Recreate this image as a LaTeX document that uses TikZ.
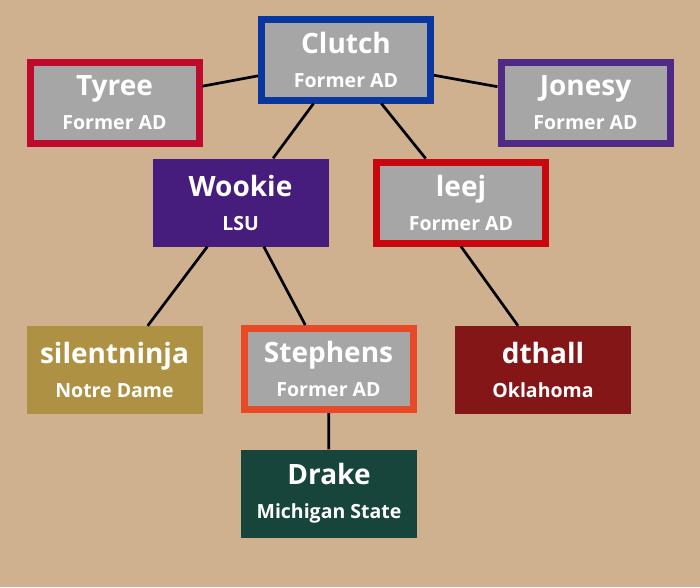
\documentclass[tikz,border=0pt]{standalone}
\usepackage{fontspec}
\setmainfont{Open Sans}
\usetikzlibrary{positioning,calc}
\definecolor{bgtan}{HTML}{CFB08F}
\definecolor{boxgrey}{HTML}{A6A6A6}
\definecolor{clutchblue}{HTML}{0A36A0}
\definecolor{tyreered}{HTML}{BE0A2C}
\definecolor{leejred}{HTML}{C8070F}
\definecolor{nupurple}{HTML}{4E2A84}
\definecolor{lsupurple}{HTML}{461D7C}
\definecolor{ndgold}{HTML}{AE9142}
\definecolor{illorange}{HTML}{E84A27}
\definecolor{oucrimson}{HTML}{841617}
\definecolor{msugreen}{HTML}{18453B}
\newcommand{\bigname}[1]{{\fontsize{28}{28}\selectfont #1}}
\tikzstyle{ndad} = [draw, line width=7pt, fill=boxgrey, minimum width=169pt, minimum height=81pt, inner sep=0pt, text=white, align=center, font={\fontsize{19.5}{34}\selectfont\bfseries}]
\tikzstyle{ndteam} = [minimum width=176pt, minimum height=88pt, inner sep=0pt, text=white, align=center, font={\fontsize{19.5}{34}\selectfont\bfseries}]
\tikzstyle{link} = [line width=2.7pt, black]

\begin{document}
\begin{tikzpicture}[x=1pt, y=-1pt]
	\fill[bgtan] (0,0) rectangle (700,587);
	\node[ndad, draw=clutchblue] (clutch) at (346,59.5) {\bigname{Clutch}\\Former AD};
	\node[ndad, draw=tyreered] (tyree) at (114.5,102.5) {\bigname{Tyree}\\Former AD};
	\node[ndad, draw=nupurple] (jonesy) at (585.5,102.5) {\bigname{Jonesy}\\Former AD};
	\node[ndteam, fill=lsupurple] (wookie) at (240.5,202.5) {\bigname{Wookie}\\LSU};
	\node[ndad, draw=leejred] (leej) at (461,202.5) {\bigname{leej}\\Former AD};
	\node[ndteam, fill=ndgold] (ninja) at (114.5,370) {\bigname{silentninja}\\Notre Dame};
	\node[ndad, draw=illorange] (stephens) at (328.5,369) {\bigname{Stephens}\\Former AD};
	\node[ndteam, fill=oucrimson] (dthall) at (543,370) {\bigname{dthall}\\Oklahoma};
	\node[ndteam, fill=msugreen] (drake) at (329,493.5) {\bigname{Drake}\\Michigan State};
	\draw[link] (tyree) -- (clutch);
	\draw[link] (jonesy) -- (clutch);
	\draw[link] (clutch) -- (wookie);
	\draw[link] (clutch) -- (leej);
	\draw[link] (wookie) -- (ninja);
	\draw[link] (wookie) -- (stephens);
	\draw[link] (leej.south) -- ([xshift=-25pt]dthall.north);
	\draw[link] (stephens) -- (drake);
\end{tikzpicture}
\end{document}
